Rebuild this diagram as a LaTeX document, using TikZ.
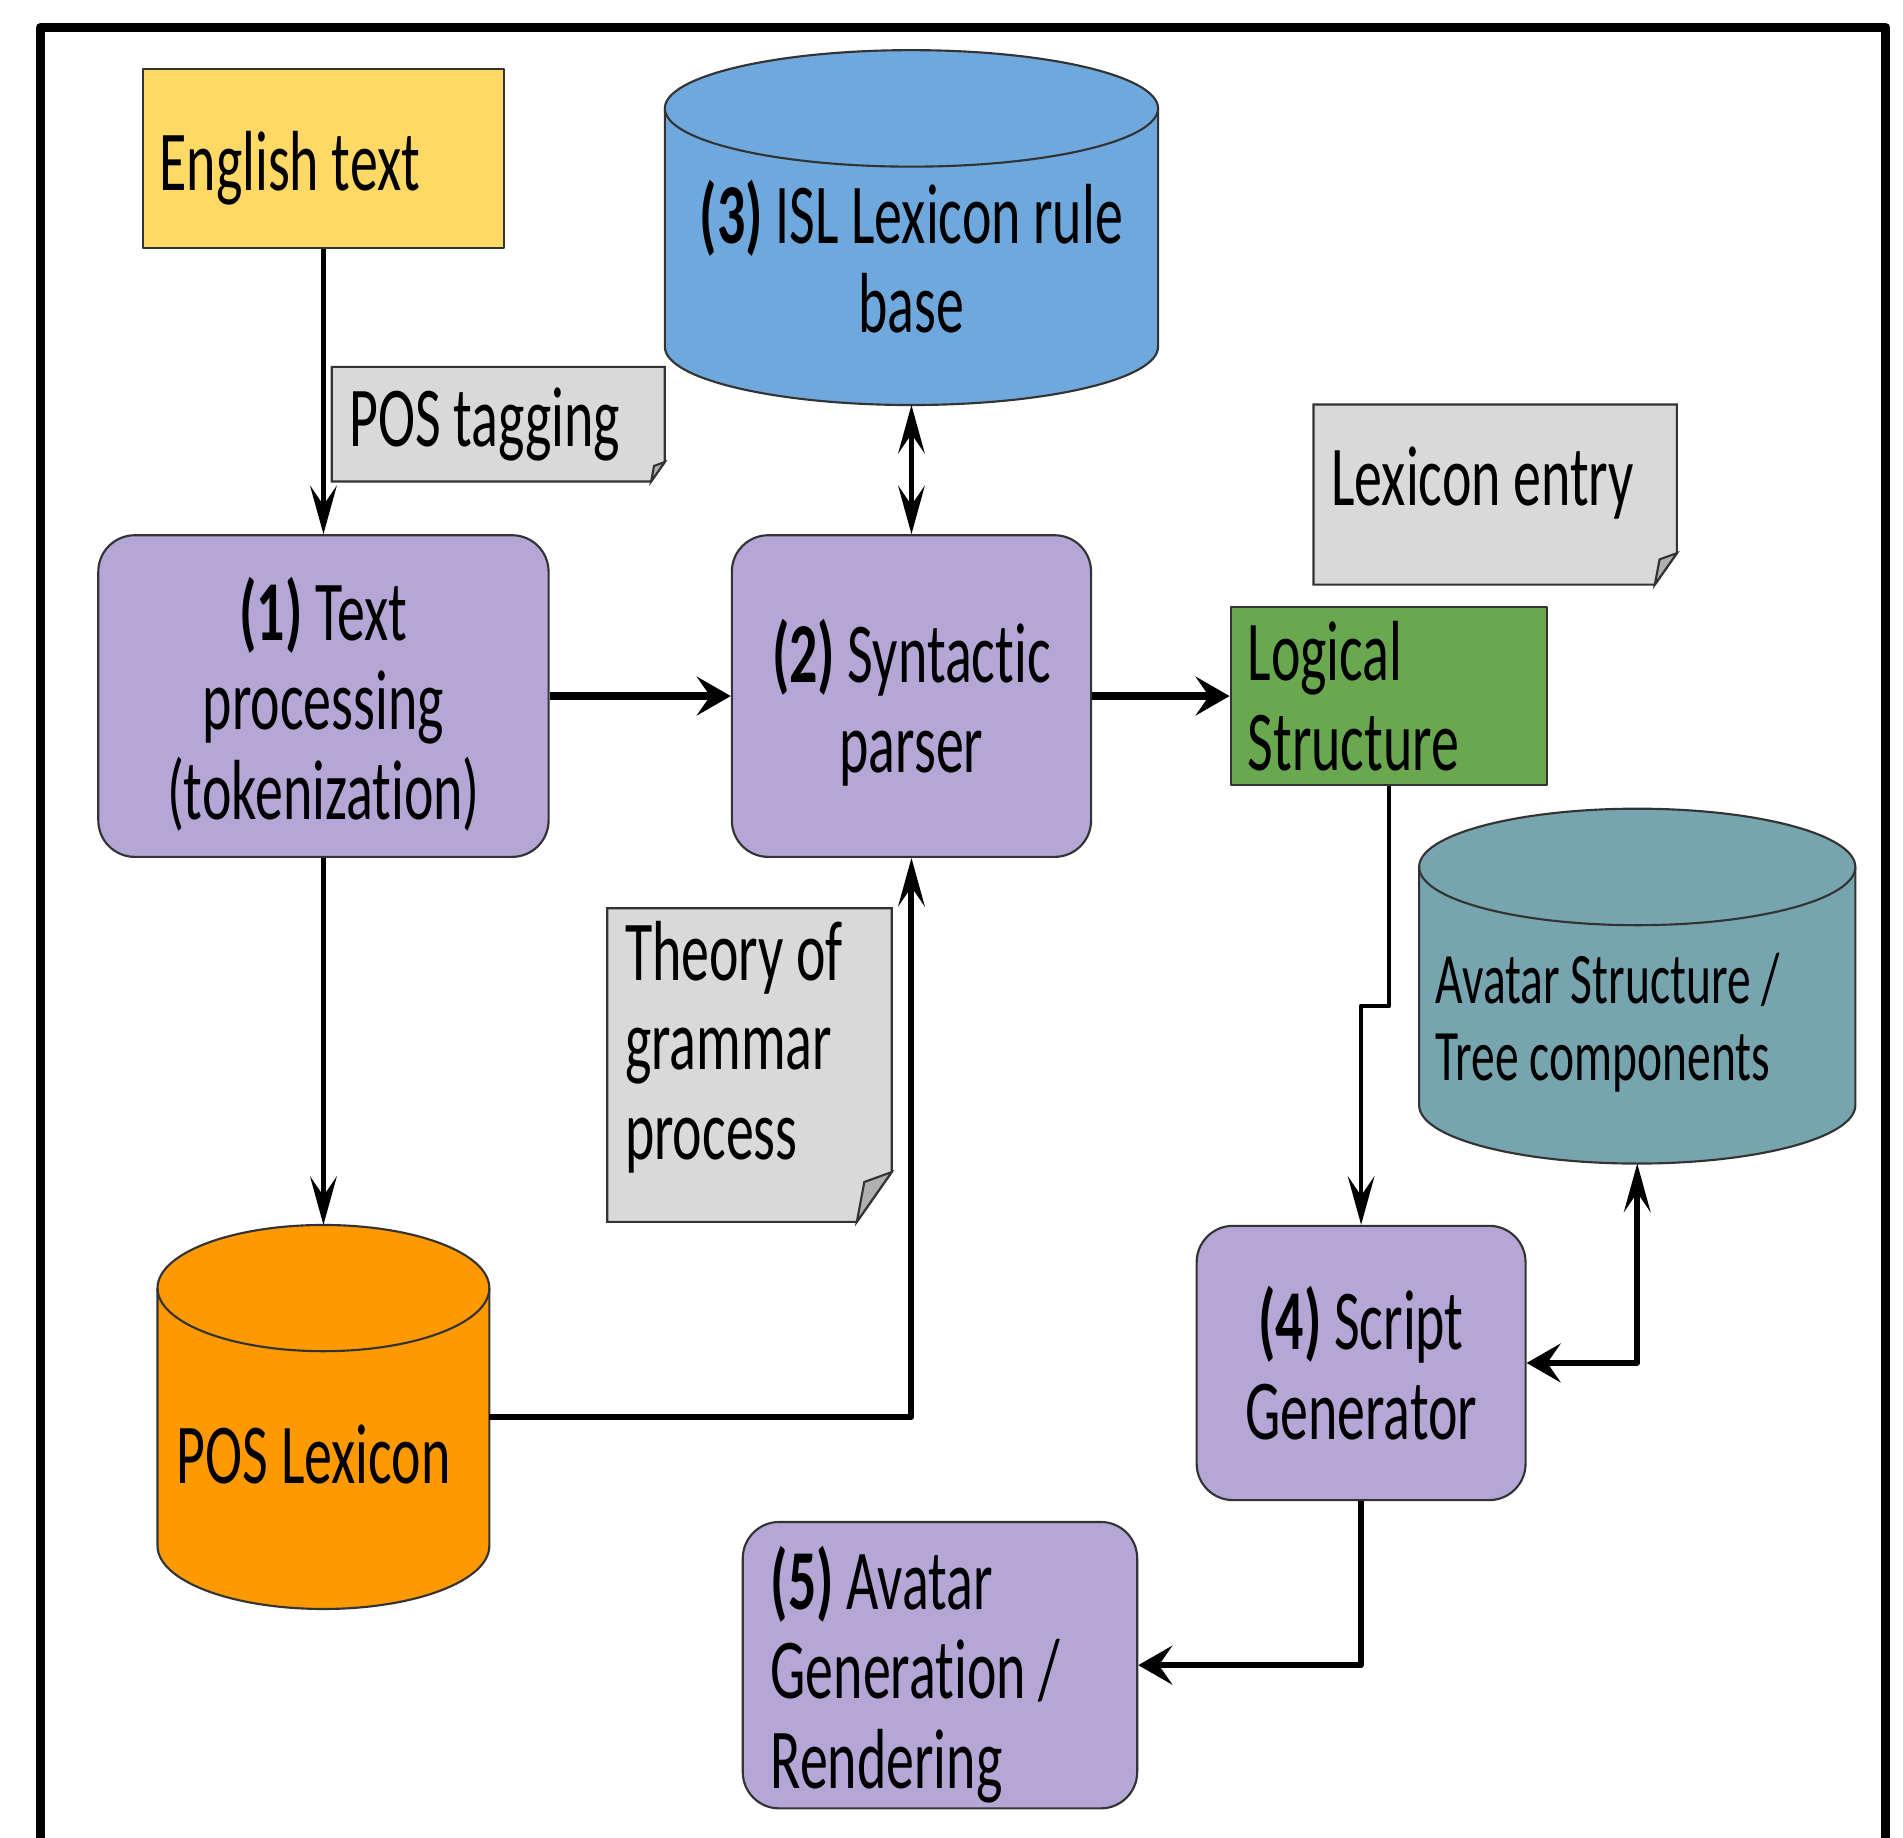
\documentclass[tikz,border=0pt]{standalone}
\usepackage{fontspec}
\setmainfont[FakeStretch=0.655, Ligatures=NoCommon]{Carlito}
\usetikzlibrary{arrows.meta, calc, backgrounds}

\definecolor{engyellow}{HTML}{FFD966}
\definecolor{notegray}{HTML}{D9D9D9}
\definecolor{foldgray}{HTML}{B0B0B0}
\definecolor{procpurple}{HTML}{B4A7D6}
\definecolor{islblue}{HTML}{6FA8DC}
\definecolor{logicgreen}{HTML}{6AA84F}
\definecolor{avatarteal}{HTML}{76A5AF}
\definecolor{lexorange}{HTML}{FF9900}

% note with a folded lower-right corner, drawn behind the named node
\newcommand{\foldnote}[2]{%
	\begin{scope}[on background layer]
		\filldraw[notefill] (#1.north west) -- (#1.north east) -- ([yshift=#2]#1.south east)
		-- ([xshift=-0.7*#2]#1.south east) -- (#1.south west) -- cycle;
		\filldraw[foldfill] ([yshift=#2]#1.south east) -- ([xshift=-0.55*#2,yshift=0.8*#2]#1.south east)
		-- ([xshift=-0.7*#2]#1.south east) -- cycle;
	\end{scope}}

% database cylinder over the extent of the named node
\newcommand{\dbcyl}[3]{%
	\filldraw[outline, fill=#2] let \p1=(#1.north west), \p2=(#1.south east), \n1={(\x2-\x1)/2} in
	(\x1,\y1-#3) -- (\x1,\y2+#3) arc[start angle=180, end angle=360, x radius=\n1, y radius=#3]
	-- (\x2,\y1-#3) arc[start angle=0, end angle=180, x radius=\n1, y radius=#3] -- cycle;
	\draw[outline] let \p1=(#1.north west), \p2=(#1.south east), \n1={(\x2-\x1)/2} in
	(\x1,\y1-#3) arc[start angle=180, end angle=360, x radius=\n1, y radius=#3];}

\begin{document}
\begin{tikzpicture}[line join=round, font=\fontsize{20}{21}\selectfont,
	vtip/.tip={Stealth[length=4mm,width=2.2mm,inset=1.6mm]},
	htip/.tip={Stealth[length=2.8mm,width=3.2mm,inset=1.1mm]},
	outline/.style={draw=black!80, line width=0.5pt},
	procbox/.style={outline, fill=procpurple, rounded corners=3mm, align=flush center, inner sep=0pt},
	plainbox/.style={outline, align=flush left, inner xsep=1.4mm, inner ysep=0pt},
	notebox/.style={align=flush left, inner xsep=1.4mm, inner ysep=0pt},
	dbarea/.style={inner sep=0pt},
	notefill/.style={outline, fill=notegray},
	foldfill/.style={outline, fill=foldgray},
	link/.style={line width=1.1pt},
	mainlink/.style={line width=1.8pt}]

\useasboundingbox (0,0) rectangle (15.68,-15.14);

% outer frame (runs off the bottom)
\draw[line width=2.1pt] (0.334,-15.4) -- (0.334,-0.225) -- (15.538,-0.225) -- (15.538,-15.4);

%========================
% input side
%========================
\node[plainbox, fill=engyellow, text width=2.70cm, minimum height=1.47cm, text height=18.5pt]
	(eng) at (2.665,-1.305) {English text};

\node[notebox, text width=2.45cm, minimum height=0.93cm] (postag) at (4.105,-3.495) {POS tagging};
\foldnote{postag}{0.16cm}

\node[procbox, text width=3.5cm, minimum width=3.71cm, minimum height=2.65cm, text height=18.6pt]
	(proc1) at (2.665,-5.735) {\textbf{(1)} Text\\processing\\(tokenization)};

% POS lexicon database
\node[dbarea, minimum width=2.72cm, minimum height=3.15cm] (poslex) at (2.665,-11.675) {};
\dbcyl{poslex}{lexorange}{0.52cm}
\node[inner sep=0pt] (poslex-txt) at (2.585,-11.98) {POS Lexicon};

%========================
% parsing
%========================
\node[dbarea, minimum width=4.05cm, minimum height=2.91cm] (isl) at (7.51,-1.875) {};
\dbcyl{isl}{islblue}{0.48cm}
\node[align=center, inner sep=0pt] (isl-txt) at (7.51,-2.115) {\textbf{(3)} ISL Lexicon rule\\base};

\node[procbox, text width=2.8cm, minimum width=2.96cm, minimum height=2.65cm, text height=18pt]
	(proc2) at (7.51,-5.735) {\textbf{(2)} Syntactic\\parser};

\node[notebox, text width=2.05cm, minimum height=2.57cm, text depth=53.6pt] (theory) at (6.175,-8.775)
	{Theory of\\grammar\\process};
\foldnote{theory}{0.41cm}

\node[plainbox, fill=logicgreen, text width=2.33cm, minimum height=1.47cm] (logic) at (11.445,-5.735)
	{Logical\\Structure};

\node[notebox, text width=2.70cm, minimum height=1.47cm, text depth=8.5pt] (lexentry) at (12.32,-4.075)
	{Lexicon entry};
\foldnote{lexentry}{0.26cm}

%========================
% output side
%========================
\node[dbarea, minimum width=3.58cm, minimum height=2.91cm] (avdb) at (13.49,-8.125) {};
\dbcyl{avdb}{avatarteal}{0.48cm}
\node[align=flush left, inner sep=0pt, text width=3.32cm, font=\fontsize{17}{17.9}\selectfont] (avdb-txt)
	at (13.49,-8.425) {Avatar Structure /\\Tree components};

\node[procbox, minimum width=2.71cm, minimum height=2.26cm] (proc4) at (11.215,-11.23)
	{\textbf{(4)} Script\\Generator};

\node[procbox, align=flush left, text width=2.79cm, inner xsep=2.3mm, minimum height=2.36cm, text height=19.2pt]
	(proc5) at (7.745,-13.72) {\textbf{(5)} Avatar\\Generation /\\Rendering};

%========================
% connectors
%========================
\draw[link, -vtip] (eng.south) -- (proc1.north);
\draw[mainlink, -htip] (proc1.east) -- (proc2.west);
\draw[mainlink, -htip] (proc2.east) -- (logic.west);
\draw[link, vtip-vtip] (isl.south) -- (proc2.north);
\draw[link, -vtip] (proc1.south) -- (poslex.north);
\draw[link, line width=1.4pt, -vtip] (poslex.east) -| (proc2.south);
\draw[link, -vtip] (logic.south) -- ++(0,-1.81) -| (proc4.north);
\draw[link, line width=1.3pt, htip-vtip] (proc4.east) -| (avdb.south);
\draw[link, line width=1.3pt, -htip] (proc4.south) |- (proc5.east);

\end{tikzpicture}
\end{document}
